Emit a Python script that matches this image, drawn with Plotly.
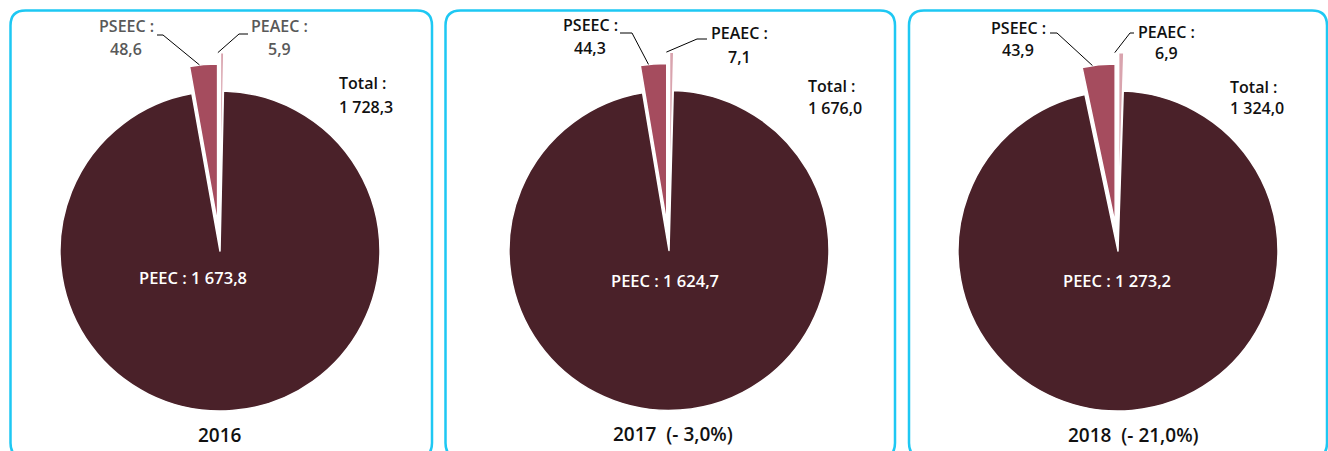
import math
import plotly.graph_objects as go

# ---------------- data ----------------
years = ["2016", "2017", "2018"]
year_titles = ["2016", "2017\u00a0\u00a0(- 3,0%)", "2018\u00a0\u00a0(- 21,0%)"]
peec = [1673.8, 1624.7, 1273.2]
pseec = [48.6, 44.3, 43.9]
peaec = [5.9, 7.1, 6.9]
totals = [1728.3, 1676.0, 1324.0]
slice_names = ["PEAEC", "PSEEC", "PEEC"]

# ---------------- layout / style ----------------
W, H = 1328, 451
FONT = "Open Sans"
colors = ["#d9a4ae", "#a54c5e", "#4a2129"]
pulls = [0.24, 0.17, 0.0]
R = 160.0
centers = [(220, 251), (669, 250.5), (1118, 251)]
panels = [(10.5, 432), (445.5, 895), (909, 1327)]
small_label_color = ["#595959", "#111111", "#111111"]

# label placements (pixel positions)
pseec_lab = [(126, 26, 49), (590, 25, 48), (1018, 28, 50)]
peaec_lab = [(279, 26, 49), (739, 33, 57), (1166, 32, 53)]
pseec_line = [((157, 35), (163, 35)), ((620, 33), (632, 33)), ((1050, 33), (1057, 33))]
peaec_line = [((248, 34), (239, 34)), ((707, 39), (697, 39)), ((1134, 33), (1130, 33))]
total_lab = [(337, 83, 107), (806, 86, 108), (1228, 87, 108)]
peec_lab = [(193, 277), (665, 280), (1117, 280)]
year_lab = [(220, 435), (673, 434), (1133, 435)]


def fx(x):
    return x / W


def fy(y):
    return 1 - y / H


def fr(v):
    s = f"{v:,.1f}"
    return s.replace(",", " ").replace(".", ",")


fig = go.Figure()
shapes = []
annotations = []

for i in range(3):
    cx, cy = centers[i]
    maxpull = max(pulls)
    half = R * (1 + maxpull)
    vals = [peaec[i], pseec[i], peec[i]]
    fig.add_trace(go.Pie(
        values=vals,
        labels=slice_names,
        sort=False,
        direction="counterclockwise",
        rotation=0,
        pull=pulls,
        marker=dict(colors=colors, line=dict(color="white", width=1.5)),
        textinfo="none",
        hoverinfo="skip",
        showlegend=False,
        domain=dict(x=[fx(cx - half), fx(cx + half)], y=[fy(cy + half), fy(cy - half)]),
    ))

    # panel border
    x0, x1 = panels[i]
    y0, y1 = 10.5, 458
    rad = 15
    path = (
        f"M {fx(x0 + rad)} {fy(y0)} L {fx(x1 - rad)} {fy(y0)} "
        f"Q {fx(x1)} {fy(y0)} {fx(x1)} {fy(y0 + rad)} "
        f"L {fx(x1)} {fy(y1 - rad)} Q {fx(x1)} {fy(y1)} {fx(x1 - rad)} {fy(y1)} "
        f"L {fx(x0 + rad)} {fy(y1)} Q {fx(x0)} {fy(y1)} {fx(x0)} {fy(y1 - rad)} "
        f"L {fx(x0)} {fy(y0 + rad)} Q {fx(x0)} {fy(y0)} {fx(x0 + rad)} {fy(y0)} Z"
    )
    shapes.append(dict(type="path", xref="paper", yref="paper", path=path,
                       line=dict(color="#1ec8f3", width=2.5), fillcolor="rgba(0,0,0,0)"))

    # leader line anchors computed from slice geometry
    tot = sum(vals)
    a_peaec = peaec[i] / tot * 2 * math.pi
    a_pseec = pseec[i] / tot * 2 * math.pi
    mids = [a_peaec / 2, a_peaec + a_pseec / 2]
    anchors = []
    for k, m in enumerate(mids):
        rr = R * (1 + pulls[k])
        anchors.append((cx - rr * math.sin(m), cy - rr * math.cos(m)))

    for (p0, p1), anc in [(pseec_line[i], anchors[1]), (peaec_line[i], anchors[0])]:
        pth = f"M {fx(p0[0])} {fy(p0[1])} L {fx(p1[0])} {fy(p1[1])} L {fx(anc[0])} {fy(anc[1])}"
        shapes.append(dict(type="path", xref="paper", yref="paper", path=pth,
                           line=dict(color="black", width=1)))

    def ann(x, y, text, color, xanchor="center", size=16):
        annotations.append(dict(
            x=fx(x), y=fy(y), xref="paper", yref="paper", text=text, showarrow=False,
            xanchor=xanchor, yanchor="middle",
            font=dict(family=FONT, size=size, color=color, weight=600)))

    c = small_label_color[i]
    ann(pseec_lab[i][0], pseec_lab[i][1], "PSEEC :", c)
    ann(pseec_lab[i][0], pseec_lab[i][2], fr(pseec[i]), c)
    ann(peaec_lab[i][0], peaec_lab[i][1], "PEAEC :", c)
    ann(peaec_lab[i][0], peaec_lab[i][2], fr(peaec[i]), c)
    ann(total_lab[i][0], total_lab[i][1], "Total :", "#111111", xanchor="left")
    ann(total_lab[i][0], total_lab[i][2], fr(totals[i]), "#111111", xanchor="left")
    ann(peec_lab[i][0], peec_lab[i][1], "PEEC : " + fr(peec[i]), "white", size=16.5)
    ann(year_lab[i][0], year_lab[i][1], year_titles[i], "#111111", size=19)

fig.update_layout(
    width=W, height=H,
    margin=dict(l=0, r=0, t=0, b=0),
    paper_bgcolor="white", plot_bgcolor="white",
    shapes=shapes, annotations=annotations,
    font=dict(family=FONT),
)

fig.write_html("out.html", config={"displayModeBar": False},
               post_script="document.body.style.margin='0';")
